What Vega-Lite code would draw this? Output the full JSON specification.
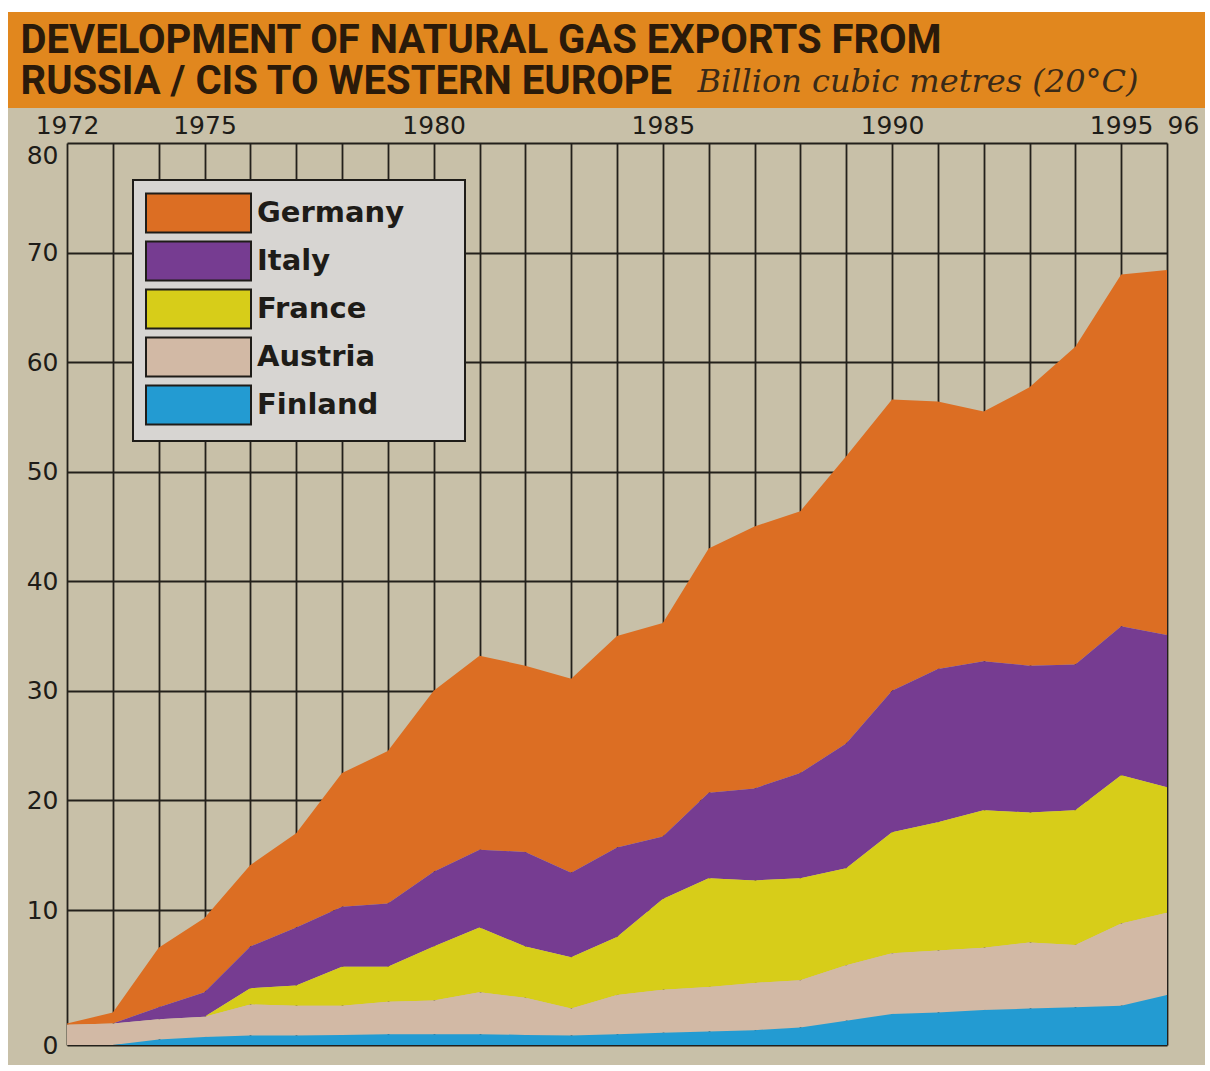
{
  "$schema": "https://vega.github.io/schema/vega-lite/v6.json",
  "background": "#FFFFFF",
  "padding": {"left": 8, "top": 12, "right": 5, "bottom": 6},
  "width": 1197,
  "height": 1053,
  "view": {
    "fill": {
      "gradient": "linear", "x1": 0, "y1": 0, "x2": 0, "y2": 1,
      "stops": [
        {"offset": 0, "color": "#E1871E"},
        {"offset": 0.0912, "color": "#E1871E"},
        {"offset": 0.0912, "color": "#C8C0A8"},
        {"offset": 1, "color": "#C8C0A8"}
      ]
    },
    "stroke": null
  },
  "data": {"values": [
    {"year": 1972, "Germany": 0.1, "Italy": 0, "France": 0, "Austria": 1.5, "Finland": 0},
    {"year": 1973, "Germany": 0.8, "Italy": 0, "France": 0, "Austria": 1.6, "Finland": 0},
    {"year": 1974, "Germany": 4.4, "Italy": 0.9, "France": 0, "Austria": 1.5, "Finland": 0.4},
    {"year": 1975, "Germany": 5.5, "Italy": 1.8, "France": 0, "Austria": 1.5, "Finland": 0.6},
    {"year": 1976, "Germany": 6.8, "Italy": 3.1, "France": 1.2, "Austria": 2.3, "Finland": 0.7},
    {"year": 1977, "Germany": 8.3, "Italy": 4.3, "France": 1.5, "Austria": 2.2, "Finland": 0.7},
    {"year": 1978, "Germany": 12.2, "Italy": 4.5, "France": 2.9, "Austria": 2.15, "Finland": 0.75},
    {"year": 1979, "Germany": 13.9, "Italy": 4.8, "France": 2.6, "Austria": 2.4, "Finland": 0.8},
    {"year": 1980, "Germany": 16.5, "Italy": 6.2, "France": 4.0, "Austria": 2.5, "Finland": 0.8},
    {"year": 1981, "Germany": 17.7, "Italy": 6.8, "France": 4.8, "Austria": 3.1, "Finland": 0.8},
    {"year": 1982, "Germany": 17.0, "Italy": 8.0, "France": 3.8, "Austria": 2.75, "Finland": 0.75},
    {"year": 1983, "Germany": 17.7, "Italy": 6.9, "France": 3.8, "Austria": 2.0, "Finland": 0.7},
    {"year": 1984, "Germany": 19.3, "Italy": 7.7, "France": 4.3, "Austria": 2.9, "Finland": 0.8},
    {"year": 1985, "Germany": 19.5, "Italy": 5.7, "France": 6.9, "Austria": 3.2, "Finland": 0.9},
    {"year": 1986, "Germany": 22.3, "Italy": 7.8, "France": 8.6, "Austria": 3.3, "Finland": 1.0},
    {"year": 1987, "Germany": 23.9, "Italy": 8.4, "France": 8.1, "Austria": 3.5, "Finland": 1.1},
    {"year": 1988, "Germany": 23.9, "Italy": 9.6, "France": 8.1, "Austria": 3.5, "Finland": 1.3},
    {"year": 1989, "Germany": 26.2, "Italy": 11.4, "France": 7.9, "Austria": 4.1, "Finland": 1.8},
    {"year": 1990, "Germany": 26.6, "Italy": 12.9, "France": 10.3, "Austria": 4.5, "Finland": 2.3},
    {"year": 1991, "Germany": 24.4, "Italy": 14.0, "France": 11.0, "Austria": 4.6, "Finland": 2.4},
    {"year": 1992, "Germany": 22.8, "Italy": 13.6, "France": 11.9, "Austria": 4.6, "Finland": 2.6},
    {"year": 1993, "Germany": 25.4, "Italy": 13.4, "France": 11.3, "Austria": 4.9, "Finland": 2.7},
    {"year": 1994, "Germany": 29.0, "Italy": 13.3, "France": 11.7, "Austria": 4.6, "Finland": 2.8},
    {"year": 1995, "Germany": 32.1, "Italy": 13.6, "France": 13.3, "Austria": 6.1, "Finland": 2.9},
    {"year": 1996, "Germany": 33.3, "Italy": 13.9, "France": 11.4, "Austria": 6.1, "Finland": 3.7}
  ]},
  "transform": [
    {"fold": ["Germany", "Italy", "France", "Austria", "Finland"], "as": ["country", "value"]},
    {"lookup": "country", "from": {"data": {"values": [
      {"country": "Finland", "rank": 1},
      {"country": "Austria", "rank": 2},
      {"country": "France", "rank": 3},
      {"country": "Italy", "rank": 4},
      {"country": "Germany", "rank": 5}
    ]}, "key": "country", "fields": ["rank"]}}
  ],
  "mark": {"type": "area", "opacity": 1},
  "encoding": {
    "x": {
      "field": "year", "type": "quantitative",
      "scale": {"domain": [1972, 1996], "range": [59, 1159], "nice": false, "zero": false},
      "axis": {
        "orient": "top", "offset": -131,
        "title": ["DEVELOPMENT OF NATURAL GAS EXPORTS FROM", "RUSSIA / CIS TO WESTERN EUROPE"],
        "titleX": 12, "titleY": -91, "titleAlign": "left", "titleBaseline": "alphabetic", "titleAngle": 0,
        "titleFont": "Roboto", "titleFontSize": 40, "titleFontWeight": "bold", "titleColor": "#2A1A0A",
        "titleLineHeight": 41, "titleLimit": 2000,
        "values": [1972,1973,1974,1975,1976,1977,1978,1979,1980,1981,1982,1983,1984,1985,1986,1987,1988,1989,1990,1991,1992,1993,1994,1995,1996],
        "format": "d",
        "labelExpr": "datum.value == 1996 ? '96' : ((datum.value == 1972 || datum.value % 5 == 0) ? datum.label : '')",
        "labelAlign": {"condition": {"test": "datum.value == 1996", "value": "left"}, "value": "center"},
        "grid": true, "gridColor": "#23201B", "gridWidth": 1.8, "gridOpacity": 1,
        "ticks": false, "domain": false,
        "labelFont": "DejaVu Sans", "labelFontSize": 25, "labelColor": "#1E1C18",
        "labelPadding": 5, "labelOverlap": false, "labelFlush": false
      }
    },
    "y": {
      "field": "value", "type": "quantitative", "stack": "zero",
      "scale": {"domain": [0, 10, 80], "range": [1033, 898, 131], "nice": false, "zero": false},
      "axis": {
        "offset": -59,
        "title": "Billion cubic metres (20°C)",
        "titleX": 630, "titleY": 79, "titleAlign": "left", "titleBaseline": "alphabetic", "titleAngle": 0,
        "titleFont": "DejaVu Serif", "titleFontSize": 32, "titleFontStyle": "italic", "titleFontWeight": "normal",
        "titleColor": "#3A2A18", "titleLimit": 2000,
        "values": [0, 10, 20, 30, 40, 50, 60, 70, 80],
        "labelBaseline": {"condition": {"test": "datum.value == 80", "value": "top"}, "value": "middle"},
        "grid": true, "gridColor": "#23201B", "gridWidth": 1.8, "gridOpacity": 1,
        "ticks": false, "domain": false,
        "labelFont": "DejaVu Sans", "labelFontSize": 25, "labelColor": "#1E1C18",
        "labelPadding": 9
      }
    },
    "order": {"field": "rank", "type": "quantitative"},
    "color": {
      "field": "country", "type": "nominal",
      "scale": {
        "domain": ["Germany", "Italy", "France", "Austria", "Finland"],
        "range": ["#DC6E23", "#763C91", "#D7CD19", "#D2B9A5", "#239BD2"]
      },
      "legend": {
        "orient": "none", "legendX": 125, "legendY": 168,
        "title": " ", "titleOrient": "right", "titlePadding": 49, "titleFontSize": 8,
        "fillColor": "#D7D5D2", "strokeColor": "#1E1C18",
        "padding": 12,
        "symbolType": "M-1,-0.975H4.25V0.975H-1Z",
        "symbolSize": 1600,
        "symbolStrokeColor": "#1E1C18", "symbolStrokeWidth": 2, "symbolOpacity": 1,
        "labelFont": "DejaVu Sans", "labelFontWeight": "bold", "labelFontSize": 29,
        "labelColor": "#1E1C18", "labelOffset": 70, "rowPadding": 0,
        "encode": {"legend": {"update": {"strokeWidth": {"value": 2}}}}
      }
    }
  }
}
